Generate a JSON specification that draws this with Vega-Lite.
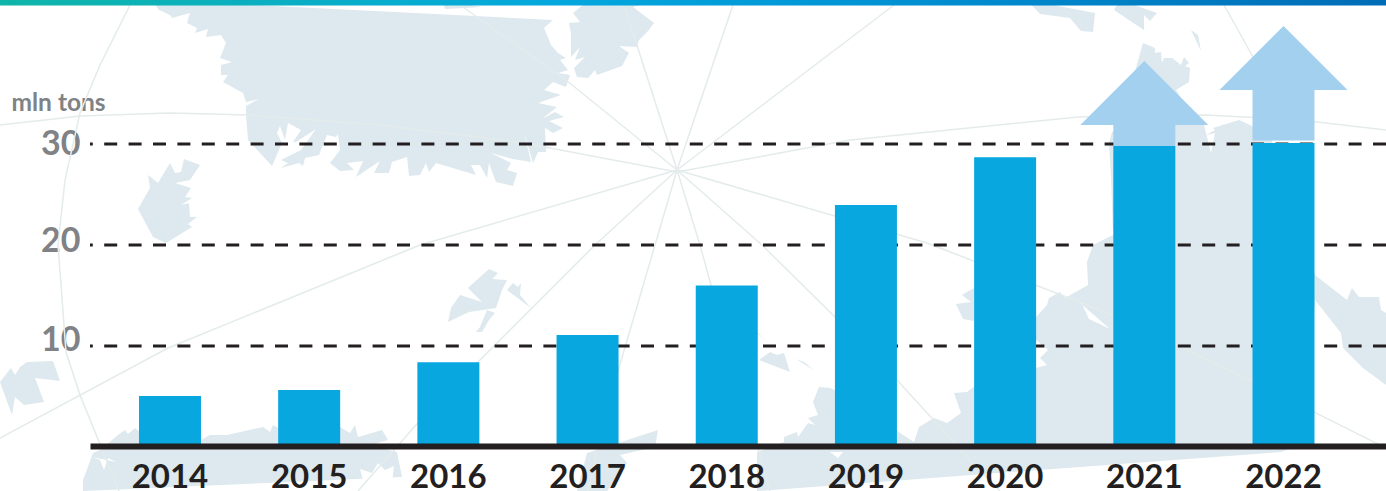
{
"$schema":"https://vega.github.io/schema/vega-lite/v6.json",
"width":1296,"height":447,
"autosize":{"type":"none"},
"padding":{"left":90,"top":0,"right":0,"bottom":44},
"background":"#ffffff",
"config":{"view":{"stroke":null},"font":"Lato"},
"datasets":{
"land":[
{"type":"Feature","properties":{"name":"Greenland"},"geometry":{"type":"Polygon","coordinates":[[[152,0],[159,10],[170,15],[172,18],[190,13],[187,23],[197,28],[195,33],[208,29],[206,37],[221,35],[226,43],[220,58],[232,62],[221,65],[221,75],[228,75],[223,82],[243,93],[246,102],[259,99],[246,106],[246,115],[248,140],[272,166],[282,143],[277,133],[280,126],[285,140],[288,123],[301,130],[293,142],[296,142],[316,129],[301,150],[281,160],[288,163],[281,168],[299,163],[303,166],[305,158],[319,155],[327,135],[336,137],[338,134],[340,150],[330,163],[340,171],[354,170],[347,163],[363,161],[356,177],[380,161],[374,173],[389,173],[392,162],[407,157],[409,176],[420,175],[426,163],[429,172],[436,163],[476,175],[471,165],[480,165],[487,178],[489,163],[496,182],[513,186],[517,173],[507,170],[511,163],[491,153],[513,159],[531,162],[524,132],[533,163],[538,152],[546,152],[545,128],[553,133],[563,128],[549,121],[564,117],[555,112],[542,119],[557,107],[538,103],[561,95],[544,90],[553,82],[566,87],[570,75],[558,73],[568,70],[560,60],[566,58],[558,53],[551,45],[544,28],[553,20],[555,0]]]}},
{"type":"Feature","properties":{"name":"Ellesmere"},"geometry":{"type":"Polygon","coordinates":[[[571,33],[571,57],[580,47],[575,60],[585,57],[574,68],[577,77],[588,78],[595,70],[597,75],[622,66],[629,53],[619,46],[637,47],[639,40],[648,31],[654,23],[633,7],[659,0],[589,0],[573,13],[580,22],[569,23],[575,32]]]}},
{"type":"Feature","properties":{"name":"Iceland"},"geometry":{"type":"Polygon","coordinates":[[[170,163],[158,183],[148,175],[150,188],[138,209],[153,237],[166,243],[192,227],[188,224],[197,217],[190,217],[189,203],[181,205],[192,198],[185,197],[191,188],[175,183],[190,180],[200,165],[184,159],[181,172],[175,173],[172,163]]]}},
{"type":"Feature","properties":{"name":"Svalbard 1"},"geometry":{"type":"Polygon","coordinates":[[[468,288],[489,269],[498,273],[492,279],[507,280],[502,290],[496,308],[469,312],[448,322],[451,308],[460,295],[482,302],[484,293]]]}},
{"type":"Feature","properties":{"name":"Svalbard 2"},"geometry":{"type":"Polygon","coordinates":[[[507,290],[513,283],[518,287],[521,283],[520,295],[531,308],[507,309]]]}},
{"type":"Feature","properties":{"name":"Svalbard 3"},"geometry":{"type":"Polygon","coordinates":[[[487,310],[495,313],[489,320],[482,332],[476,332],[480,327],[473,324]]]}},
{"type":"Feature","properties":{"name":"Islet"},"geometry":{"type":"Polygon","coordinates":[[[628,358],[646,347],[633,350]]]}},
{"type":"Feature","properties":{"name":"Arctic west"},"geometry":{"type":"Polygon","coordinates":[[[0,382],[11,368],[15,375],[20,367],[27,362],[53,361],[60,381],[35,378],[44,402],[24,405],[15,397],[12,415],[0,428]]]}},
{"type":"Feature","properties":{"name":"South coast"},"geometry":{"type":"Polygon","coordinates":[[[83,491],[83,480],[93,453],[100,450],[118,435],[125,430],[128,434],[135,428],[150,440],[201,440],[210,435],[227,435],[263,427],[270,432],[273,425],[300,440],[340,427],[350,433],[355,425],[358,437],[382,430],[388,440],[370,445],[397,452],[402,477],[405,491]]]}},
{"type":"Feature","properties":{"name":"South coast 2"},"geometry":{"type":"Polygon","coordinates":[[[618,443],[658,430],[655,447],[620,455],[627,463],[607,491],[577,491],[587,453],[600,445]]]}},
{"type":"Feature","properties":{"name":"Islet 2"},"geometry":{"type":"Polygon","coordinates":[[[759,360],[770,352],[777,355],[784,353],[790,372],[775,376]]]}},
{"type":"Feature","properties":{"name":"Islet 3"},"geometry":{"type":"Polygon","coordinates":[[[796,359],[804,362],[815,371],[800,388]]]}},
{"type":"Feature","properties":{"name":"Islet 4"},"geometry":{"type":"Polygon","coordinates":[[[750,325],[757,333],[770,345],[755,360]]]}},
{"type":"Feature","properties":{"name":"Eurasia"},"geometry":{"type":"Polygon","coordinates":[[[757,491],[757,452],[784,442],[784,437],[797,432],[798,437],[808,423],[815,425],[808,418],[818,415],[813,402],[819,387],[830,388],[845,395],[880,420],[897,431],[914,442],[919,427],[934,418],[947,423],[961,413],[954,393],[967,392],[990,375],[1036,368],[1047,365],[1040,358],[1048,350],[1036,340],[1036,317],[1047,305],[1049,298],[1060,292],[1065,298],[1088,285],[1087,262],[1093,245],[1113,235],[1111,177],[1109,143],[1112,132],[1120,125],[1204,125],[1211,153],[1215,133],[1206,135],[1215,130],[1213,128],[1239,120],[1250,125],[1270,135],[1315,275],[1347,300],[1352,288],[1359,297],[1379,297],[1381,310],[1386,313],[1386,385],[1363,368],[1343,348],[1341,333],[1315,300],[1300,445],[1281,452],[1272,491]]]}},
{"type":"Feature","properties":{"name":"Islet 5"},"geometry":{"type":"Polygon","coordinates":[[[974,288],[962,295],[971,302],[956,304],[963,319],[974,321],[990,310]]]}},
{"type":"Feature","properties":{"name":"Islet 6"},"geometry":{"type":"Polygon","coordinates":[[[1328,267],[1338,282],[1329,276]]]}},
{"type":"Feature","properties":{"name":"Arctic isles"},"geometry":{"type":"Polygon","coordinates":[[[1143,43],[1155,48],[1155,53],[1161,52],[1162,63],[1164,58],[1172,58],[1181,65],[1184,57],[1189,63],[1185,66],[1190,68],[1189,82],[1176,90],[1182,100],[1190,125],[1120,125],[1136,57]]]}},
{"type":"Feature","properties":{"name":"Arctic isle 2"},"geometry":{"type":"Polygon","coordinates":[[[1191,30],[1198,35],[1201,51],[1193,52]]]}},
{"type":"Feature","properties":{"name":"Arctic isle 3"},"geometry":{"type":"Polygon","coordinates":[[[1027,0],[1040,14],[1070,18],[1081,31],[1093,32],[1095,13],[1101,0]]]}},
{"type":"Feature","properties":{"name":"Arctic isle 4"},"geometry":{"type":"Polygon","coordinates":[[[1120,0],[1114,10],[1144,30],[1144,15],[1150,21],[1157,13],[1151,0]]]}},
{"type":"Feature","properties":{"name":"Arctic isle 5"},"geometry":{"type":"Polygon","coordinates":[[[1228,0],[1235,11],[1237,0]]]}},
{"type":"Feature","properties":{"name":"Arctic isle 6"},"geometry":{"type":"Polygon","coordinates":[[[1070,103],[1082,121],[1068,117]]]}},
{"type":"Feature","properties":{"name":"Arctic isle 7"},"geometry":{"type":"Polygon","coordinates":[[[442,0],[445,9],[482,7],[493,0]]]}},
{"type":"Feature","properties":{"name":"Arctic isle 8"},"geometry":{"type":"Polygon","coordinates":[[[520,0],[524,10],[529,0]]]}}
],
"fjords":[
{"type":"Feature","properties":{},"geometry":{"type":"Polygon","coordinates":[[[830,452],[843,452],[838,458],[831,457]]]}},
{"type":"Feature","properties":{},"geometry":{"type":"Polygon","coordinates":[[[875,452],[880,452],[870,472]]]}},
{"type":"Feature","properties":{},"geometry":{"type":"Polygon","coordinates":[[[1079,302],[1081,302],[1089,319],[1110,329],[1087,321]]]}},
{"type":"Feature","properties":{},"geometry":{"type":"Polygon","coordinates":[[[1047,312],[1058,318],[1049,315]]]}},
{"type":"Feature","properties":{},"geometry":{"type":"Polygon","coordinates":[[[360,469],[372,473],[378,463],[385,470],[394,466],[392,482],[398,491],[366,491],[372,482]]]}},
{"type":"Feature","properties":{},"geometry":{"type":"Polygon","coordinates":[[[92,457],[100,460],[104,470],[108,458],[116,462],[100,455]]]}}
],
"graticule":[
{"type":"Feature","properties":{},"geometry":{"type":"LineString","coordinates":[[677,170],[566,80],[460,5]]}},
{"type":"Feature","properties":{},"geometry":{"type":"LineString","coordinates":[[677,170],[624,5]]}},
{"type":"Feature","properties":{},"geometry":{"type":"LineString","coordinates":[[677,170],[733,5]]}},
{"type":"Feature","properties":{},"geometry":{"type":"LineString","coordinates":[[677,170],[894,5]]}},
{"type":"Feature","properties":{},"geometry":{"type":"LineString","coordinates":[[677,170],[927,243],[1113,315],[1246,378],[1386,448]]}},
{"type":"Feature","properties":{},"geometry":{"type":"LineString","coordinates":[[677,170],[762,245],[835,317],[897,380],[972,462],[1000,491]]}},
{"type":"Feature","properties":{},"geometry":{"type":"LineString","coordinates":[[677,170],[700,245],[711,285],[757,445],[770,491]]}},
{"type":"Feature","properties":{},"geometry":{"type":"LineString","coordinates":[[677,170],[655,245],[619,368],[597,452],[588,491]]}},
{"type":"Feature","properties":{},"geometry":{"type":"LineString","coordinates":[[677,170],[595,245],[478,362],[416,425],[358,491]]}},
{"type":"Feature","properties":{},"geometry":{"type":"LineString","coordinates":[[677,170],[420,245],[168,348],[0,438]]}},
{"type":"Feature","properties":{},"geometry":{"type":"LineString","coordinates":[[0,125],[80,116],[170,113],[248,115],[380,125],[518,142],[677,172],[850,140],[1078,117],[1206,115],[1300,120],[1386,130]]}},
{"type":"Feature","properties":{},"geometry":{"type":"LineString","coordinates":[[1224,5],[1253,57],[1285,130]]}},
{"type":"Feature","properties":{},"geometry":{"type":"LineString","coordinates":[[130,5],[100,65],[80,113],[65,180],[58,245],[66,352],[80,395],[119,491]]}}
],
"topband":[
{"type":"Feature","properties":{},"geometry":{"type":"Polygon","coordinates":[[[0,0],[1386,0],[1386,5.5],[0,5.5],[0,0]]]}}
]
},
"data":{"values":[
{"year":"2014","tons":5.05},{"year":"2015","tons":5.64},{"year":"2016","tons":8.4},{"year":"2017","tons":11.1},{"year":"2018","tons":16.0},{"year":"2019","tons":23.96},{"year":"2020","tons":28.7},{"year":"2021","tons":29.8},{"year":"2022","tons":30.1}
]},
"layer":[
{"data":{"name":"land"},"projection":{"type":"identity","scale":1,"translate":[-90,0]},"mark":{"type":"geoshape","clip":false,"fill":"#dde9ee","stroke":null,"strokeWidth":0}},
{"data":{"name":"fjords"},"projection":{"type":"identity","scale":1,"translate":[-90,0]},"mark":{"type":"geoshape","clip":false,"fill":"#ffffff","stroke":null,"strokeWidth":0}},
{"data":{"name":"graticule"},"projection":{"type":"identity","scale":1,"translate":[-90,0]},"mark":{"type":"geoshape","clip":false,"filled":false,"stroke":"#e4ebeb","strokeWidth":1.5}},
{"data":{"values":[{"level":10},{"level":20},{"level":30}]},
 "mark":{"type":"rule","stroke":"#231f20","strokeWidth":2.8,"strokeDash":[13,11.4]},
 "encoding":{"y":{"field":"level","type":"quantitative"}}},
{"data":{"values":[{"year":"2021","low":29.8,"base":31.88},{"year":"2022","low":30.35,"base":35.35}]},
 "mark":{"type":"bar","color":"#a3d0ee"},
 "encoding":{"x":{"field":"year","type":"nominal"},"y":{"field":"low","type":"quantitative"},"y2":{"field":"base"}}},
{"data":{"values":[{"year":"2021","base":31.88},{"year":"2022","base":35.35}]},
 "mark":{"type":"point","filled":true,"opacity":1,"color":"#a3d0ee","size":16384,"shape":"M-1,0L0,-1L1,0Z"},
 "encoding":{"x":{"field":"year","type":"nominal"},"y":{"field":"base","type":"quantitative"}}},
{"mark":{"type":"bar","color":"#09a7e0"},
 "encoding":{
  "x":{"field":"year","type":"nominal",
   "scale":{"type":"band","paddingInner":0.5546,"paddingOuter":0.4328,"align":0.4066},
   "axis":{"title":null,"labelAngle":0,"labelAlign":"center","labelFont":"Lato","labelFontSize":33,"labelFontWeight":700,"labelColor":"#231f20","labelPadding":41,"labelBaseline":"alphabetic","ticks":false,"domain":true,"domainColor":"#231f20","domainWidth":6,"offset":-1,"zindex":1,"grid":false}},
  "y":{"field":"tons","type":"quantitative",
   "scale":{"domain":[0,44.26],"nice":false,"zero":true},
   "axis":{"title":"mln tons","titleAngle":0,"titleX":-79,"titleY":110,"titleAlign":"left","titleBaseline":"alphabetic","titleFont":"Lato","titleFontSize":24.5,"titleFontWeight":700,"titleColor":"#808285",
    "values":[10,20,30],"grid":false,"domain":false,"ticks":false,"labelFont":"Lato","labelFontSize":34,"labelFontWeight":700,"labelColor":"#808285","labelPadding":10,
    "labelOffset":{"condition":[{"test":"datum.value==10","value":-5.5},{"test":"datum.value==20","value":-3.5}],"value":0}}}
 }},
{"data":{"name":"topband"},"projection":{"type":"identity","scale":1,"translate":[-90,0]},
 "mark":{"type":"geoshape","clip":false,"strokeWidth":0,"stroke":null,"fill":{"gradient":"linear","x1":0,"x2":1,"y1":0,"y2":0,"stops":[{"offset":0,"color":"#10b5a8"},{"offset":0.4,"color":"#04a8dd"},{"offset":0.6,"color":"#0196d6"},{"offset":1,"color":"#006cb6"}]}}}
]
}
